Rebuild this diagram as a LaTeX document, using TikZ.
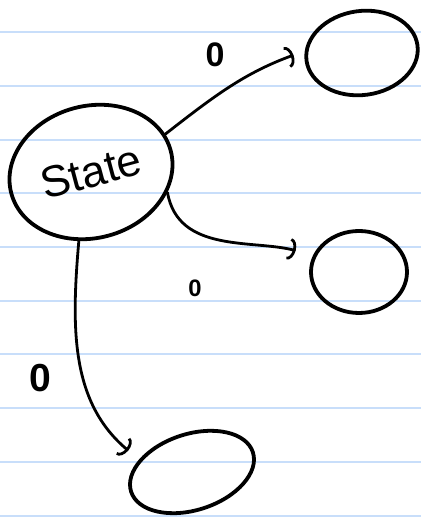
\documentclass[tikz,border=0pt]{standalone}
\usepackage{fontspec}
\setsansfont{Liberation Sans}
\usetikzlibrary{arrows.meta,shapes.geometric}
\definecolor{ruleblue}{RGB}{200,222,250}
\tikzset{go/.style={line width=2.8pt, line cap=round, -{Arc Barb[length=7pt,width=22pt]}, shorten >=12pt},
  st/.style={draw, ellipse, line width=3.8pt, inner sep=0pt},
  lbl/.style={font=\sffamily\bfseries\fontsize{34}{34}\selectfont}}

\begin{document}
\begin{tikzpicture}[x=1pt,y=1pt]
  \useasboundingbox (0,0) rectangle (421,522);
  % ruled paper
  \foreach \k in {0,...,9}{
    \draw[line width=2pt, ruleblue] (0,{489.7-53.7*\k}) -- (421,{489.7-53.7*\k});}
  % states
  \node[st, minimum width=165pt, minimum height=132pt, rotate=15,
    font=\sffamily\fontsize{44}{44}\selectfont] (s) at (91,350) {State};
  \node[st, minimum width=112pt, minimum height=84pt, rotate=8] (up) at (362,469) {};
  \node[st, minimum width=96pt, minimum height=82pt] (mid) at (359,250) {};
  \node[st, minimum width=128pt, minimum height=76pt, rotate=18] (low) at (192,50) {};
  % transitions
  \draw[go] (s.12) to[out=38,in=200] (up.170);
  \node[lbl] (l1) at (215,467) {0};
  \draw[go, shorten >=18pt] (s.-30) to[out=-80,in=165] (mid.160);
  \node[lbl, scale=0.7] (l2) at (195,234) {0};
  \draw[go, shorten >=14pt] (s.-115) to[out=-95,in=140] (low.north west);
  \node[lbl, scale=1.15] (l3) at (40,144) {0};
\end{tikzpicture}
\end{document}
